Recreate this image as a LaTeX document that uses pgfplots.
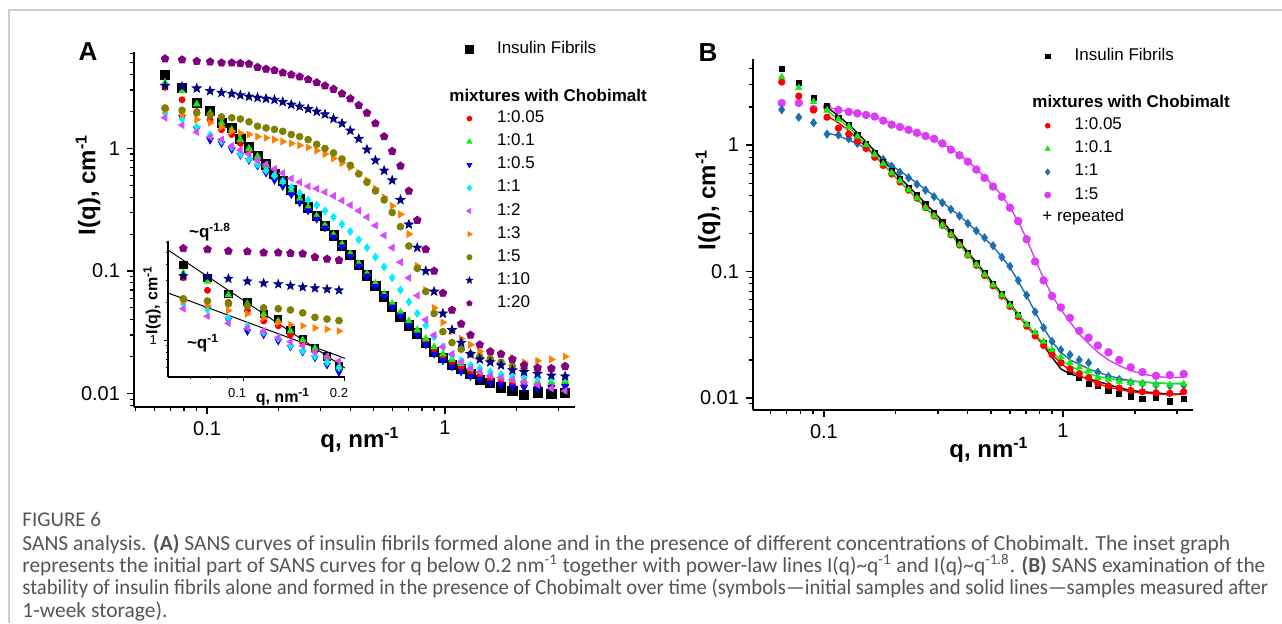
\documentclass[border=0pt]{standalone}
\usepackage{graphicx}
\usepackage{pgfplots}
\pgfplotsset{compat=1.18}
\usepackage{pgfplotstable}
\usepackage{fontspec}
\setmainfont{Liberation Sans}
\newfontfamily\capfont{Carlito}
\usetikzlibrary{plotmarks}

\definecolor{cRed}{RGB}{255,0,0}
\definecolor{cGreen}{RGB}{20,235,20}
\definecolor{cBlue}{RGB}{0,0,255}
\definecolor{cCyan}{RGB}{0,240,255}
\definecolor{cMag}{RGB}{215,75,255}
\definecolor{cOrange}{RGB}{255,128,0}
\definecolor{cOlive}{RGB}{128,128,0}
\definecolor{cNavy}{RGB}{0,0,128}
\definecolor{cPurp}{RGB}{128,0,128}
\definecolor{cSteel}{RGB}{30,110,180}
\definecolor{cMagB}{RGB}{220,60,245}
\definecolor{capgray}{RGB}{85,85,85}

% filled five-pointed star
\pgfdeclareplotmark{fstar}{%
  \pgfpathmoveto{\pgfqpointpolar{90}{\pgfplotmarksize}}%
  \pgfpathlineto{\pgfqpointpolar{126}{0.42\pgfplotmarksize}}%
  \pgfpathlineto{\pgfqpointpolar{162}{\pgfplotmarksize}}%
  \pgfpathlineto{\pgfqpointpolar{198}{0.42\pgfplotmarksize}}%
  \pgfpathlineto{\pgfqpointpolar{234}{\pgfplotmarksize}}%
  \pgfpathlineto{\pgfqpointpolar{270}{0.42\pgfplotmarksize}}%
  \pgfpathlineto{\pgfqpointpolar{306}{\pgfplotmarksize}}%
  \pgfpathlineto{\pgfqpointpolar{342}{0.42\pgfplotmarksize}}%
  \pgfpathlineto{\pgfqpointpolar{18}{\pgfplotmarksize}}%
  \pgfpathlineto{\pgfqpointpolar{54}{0.42\pgfplotmarksize}}%
  \pgfpathclose
  \pgfusepathqfillstroke}

% panel A: q, then I(q) for each sample
\pgfplotstableread{
q     blk    red    grn    blu    cya    mag    ora    olv    nav    pur
0.0666 3.98  3.15   3.45   2.05   1.95   1.78   2.05   2.14   3.25   5.4
0.0785 3.12  2.50   2.95   1.80   1.75   1.55   1.88   2.05   3.20   5.3
0.0905 2.35  2.00   2.30   1.45   1.50   1.36   1.72   1.95   3.10   5.15
0.103  2.02  1.72   1.95   1.17   1.29   1.24   1.62   1.88   2.95   5.1
0.115  1.62  1.42   1.62   1.10   1.15   1.18   1.50   1.81   2.85   5.0
0.127  1.47  1.30   1.42   0.98   1.03   1.05   1.38   1.78   2.80   5.0
0.138  1.20  1.10   1.18   0.88   0.90   0.97   1.33   1.74   2.72   4.95
0.150  1.02  0.95   1.00   0.80   0.82   0.90   1.30   1.65   2.65   4.9
0.163  0.87  0.82   0.86   0.72   0.74   0.80   1.25   1.52   2.60   4.6
0.177  0.74  0.71   0.73   0.63   0.66   0.74   1.22   1.47   2.55   4.45
0.192  0.62  0.60   0.61   0.55   0.60   0.68   1.18   1.43   2.50   4.35
0.208  0.54  0.52   0.53   0.49   0.54   0.63   1.14   1.38   2.40   4.15
0.226  0.46  0.45   0.45   0.42   0.48   0.57   1.10   1.30   2.28   4.0
0.245  0.39  0.38   0.385  0.36   0.43   0.53   1.06   1.25   2.20   3.85
0.266  0.33  0.325  0.33   0.31   0.38   0.49   1.02   1.18   2.10   3.65
0.289  0.28  0.275  0.28   0.265  0.345  0.47   0.96   1.08   2.00   3.45
0.313  0.235 0.232  0.235  0.225  0.31   0.44   0.90   1.00   1.90   3.25
0.340  0.195 0.195  0.197  0.19   0.275  0.41   0.83   0.92   1.75   3.05
0.369  0.162 0.163  0.165  0.158  0.24   0.375  0.76   0.82   1.60   2.8
0.400  0.135 0.136  0.138  0.132  0.21   0.345  0.70   0.73   1.40   2.55
0.434  0.112 0.113  0.115  0.11   0.18   0.31   0.63   0.62   1.20   2.25
0.470  0.092 0.094  0.095  0.091  0.155  0.275  0.55   0.53   0.98   1.95
0.510  0.076 0.078  0.079  0.075  0.13   0.235  0.47   0.45   0.80   1.6
0.555  0.062 0.064  0.065  0.062  0.108  0.195  0.40   0.38   0.66   1.25
0.600  0.051 0.053  0.054  0.051  0.088  0.155  0.34   0.30   0.55   0.95
0.650  0.042 0.045  0.046  0.043  0.070  0.118  0.29   0.23   0.38   0.72
0.705  0.036 0.038  0.039  0.036  0.056  0.088  0.20   0.16   0.24   0.45
0.765  0.031 0.032  0.033  0.030  0.045  0.063  0.11   0.105  0.155  0.26
0.830  0.026 0.027  0.028  0.025  0.036  0.040  0.07   0.068  0.10   0.15
0.900  0.022 0.023  0.024  0.021  0.029  0.030  0.05   0.045  0.068  0.10
0.980  0.0195 0.020 0.021  0.0185 0.024  0.024  0.038  0.032  0.045  0.066
1.07   0.017 0.018  0.019  0.0165 0.0205 0.021  0.032  0.026  0.033  0.048
1.17   0.0158 0.0165 0.0175 0.015 0.0185 0.018  0.028  0.023  0.026  0.037
1.28   0.0145 0.015 0.016  0.0138 0.017  0.016  0.025  0.021  0.021  0.030
1.40   0.013 0.014  0.015  0.013  0.016  0.015  0.022  0.020  0.019  0.025
1.55   0.0122 0.0132 0.0142 0.0122 0.015 0.014 0.021  0.0192 0.018  0.022
1.72   0.0112 0.0125 0.0136 0.0118 0.0143 0.0135 0.021 0.018 0.017  0.021
1.92   0.0105 0.012 0.013  0.0113 0.0138 0.013  0.0195 0.0167 0.0155 0.019
2.15   0.0098 0.0118 0.0127 0.0112 0.0135 0.0125 0.018 0.016 0.015 0.017
2.45   0.0102 0.0116 0.0125 0.011 0.0134 0.0118 0.0185 0.0157 0.0145 0.0162
2.80   0.0099 0.0115 0.0124 0.0112 0.0134 0.011 0.019 0.016 0.014 0.016
3.20   0.0101 0.0117 0.0126 0.0114 0.0135 0.0105 0.020 0.0168 0.0138 0.0166
}\tabA

% panel B: initial samples (symbols)
\pgfplotstableread{
q      blk    red    grn    blu    mag
0.0666 3.98   3.15   3.45   1.90   2.15
0.0785 3.09   2.44   2.83   1.66   2.15
0.0905 2.35   1.89   2.19   1.50   1.93
0.103  2.03   1.66   1.88   1.22   2.00
0.115  1.63   1.36   1.60   1.20   1.89
0.127  1.44   1.22   1.40   1.12   1.83
0.138  1.20   1.08   1.17   1.03   1.78
0.150  1.02   0.94   1.00   0.95   1.73
0.163  0.86   0.80   0.84   0.85   1.68
0.177  0.73   0.69   0.71   0.77   1.56
0.192  0.62   0.59   0.60   0.68   1.45
0.208  0.54   0.51   0.52   0.61   1.39
0.226  0.46   0.44   0.44   0.55   1.32
0.245  0.40   0.38   0.38   0.49   1.25
0.266  0.34   0.32   0.32   0.44   1.18
0.289  0.29   0.275  0.275  0.39   1.12
0.313  0.245  0.232  0.232  0.35   1.03
0.340  0.205  0.195  0.195  0.31   0.92
0.369  0.170  0.162  0.162  0.275  0.83
0.400  0.140  0.135  0.135  0.24   0.74
0.434  0.117  0.112  0.113  0.21   0.64
0.470  0.097  0.093  0.094  0.185  0.55
0.510  0.080  0.077  0.078  0.16   0.47
0.555  0.066  0.064  0.065  0.13   0.39
0.600  0.055  0.053  0.054  0.11   0.32
0.650  0.045  0.044  0.045  0.085  0.25
0.705  0.038  0.037  0.038  0.065  0.18
0.765  0.032  0.031  0.033  0.048  0.12
0.830  0.027  0.026  0.028  0.036  0.085
0.900  0.023  0.022  0.024  0.028  0.064
0.980  0.019  0.019  0.021  0.024  0.052
1.07   0.016  0.017  0.019  0.022  0.043
1.17   0.0145 0.0155 0.0175 0.020  0.034
1.28   0.013  0.0145 0.0165 0.019  0.030
1.40   0.0125 0.013  0.0145 0.016  0.026
1.55   0.0115 0.0125 0.014  0.0148 0.023
1.72   0.0108 0.012  0.0135 0.014  0.020
1.92   0.0103 0.0115 0.0132 0.0133 0.0175
2.15   0.0099 0.0112 0.013  0.013  0.016
2.45   0.0101 0.011  0.0128 0.0127 0.015
2.80   0.0094 0.0109 0.0127 0.0125 0.0152
3.20   0.0098 0.0112 0.0129 0.0126 0.0155
}\tabB

% panel B: after 1-week storage (lines)
\pgfplotstableread{
q      blk    red    grn    blu    mag
0.103  2.0    1.7    1.85   1.25   2.0
0.115  1.7    1.5    1.6    1.18   1.9
0.127  1.45   1.3    1.38   1.1    1.84
0.138  1.25   1.12   1.18   1.02   1.79
0.150  1.06   0.96   1.0    0.94   1.74
0.163  0.9    0.82   0.84   0.86   1.67
0.177  0.76   0.7    0.71   0.77   1.57
0.192  0.64   0.6    0.6    0.69   1.47
0.208  0.55   0.51   0.52   0.62   1.39
0.226  0.47   0.44   0.44   0.56   1.32
0.245  0.405  0.375  0.38   0.5    1.25
0.266  0.345  0.32   0.32   0.445  1.18
0.289  0.295  0.275  0.275  0.395  1.1
0.313  0.25   0.235  0.232  0.352  1.02
0.340  0.208  0.198  0.195  0.312  0.93
0.369  0.172  0.165  0.163  0.276  0.84
0.400  0.142  0.137  0.136  0.242  0.75
0.434  0.118  0.114  0.113  0.21   0.65
0.470  0.098  0.095  0.094  0.183  0.56
0.510  0.081  0.078  0.078  0.158  0.48
0.555  0.067  0.065  0.065  0.13   0.4
0.600  0.056  0.054  0.054  0.108  0.32
0.650  0.046  0.045  0.046  0.084  0.25
0.705  0.038  0.037  0.038  0.064  0.18
0.765  0.032  0.031  0.032  0.048  0.125
0.830  0.026  0.026  0.027  0.036  0.088
0.900  0.021  0.022  0.023  0.028  0.065
0.980  0.017  0.019  0.02   0.023  0.05
1.07   0.0155 0.0165 0.018  0.02   0.04
1.17   0.0148 0.015  0.0165 0.0185 0.032
1.28   0.0142 0.014  0.0155 0.017  0.027
1.40   0.0135 0.013  0.0148 0.016  0.023
1.55   0.0128 0.0122 0.0143 0.015  0.02
1.72   0.012  0.0117 0.0139 0.0143 0.018
1.92   0.0115 0.0112 0.0136 0.0137 0.0165
2.15   0.0112 0.011  0.0134 0.0134 0.0155
2.45   0.011  0.0108 0.0132 0.0131 0.0148
2.80   0.0107 0.0106 0.013  0.013  0.0145
3.20   0.0108 0.0107 0.0131 0.013  0.0146
}\tabBl

\begin{document}
\begin{tikzpicture}
\path[use as bounding box] (0,0) rectangle (641pt,311.5pt);
\draw[black!20, line width=0.6pt] (4.5pt,0) -- (4.5pt,306.5pt) -- (641pt,306.5pt);

% ---------------- panel A ----------------
\begin{axis}[
  scale only axis, xmode=log, ymode=log,
  axis x line*=bottom, axis y line*=left, tick align=outside,
  axis line style={line width=0.75pt},
  major tick length=3.5pt, minor tick length=2pt,
  tick style={line width=0.6pt, black},
  tick label style={font=\fontsize{10}{12}\selectfont},
  at={(67pt,108pt)}, anchor=south west, width=220.5pt, height=177.5pt,
  xmin=0.0493, xmax=3.52, ymin=0.00776, ymax=6.13,
  xtick={0.1,1}, xticklabels={0.1,1},
  minor xtick={0.05,0.06,0.07,0.08,0.09,0.2,0.3,0.4,0.5,0.6,0.7,0.8,0.9,2,3},
  ytick={0.01,0.1,1}, yticklabels={0.01,0.1,1},
  minor ytick={0.008,0.009,0.02,0.03,0.04,0.05,0.06,0.07,0.08,0.09,0.2,0.3,0.4,0.5,0.6,0.7,0.8,0.9,2,3,4,5,6},
  legend cell align=left,
  legend style={draw=none, fill=none, anchor=north west, inner sep=0pt,
    at={(axis description cs:0.721,1.034)},
    font=\fontsize{8.5}{10}\selectfont, row sep=2.55pt,
    nodes={inner xsep=12pt, inner ysep=0pt, text height=6.5pt, text depth=2.5pt}},
]
\addplot[only marks, forget plot, mark=square*, mark size=2.3pt, black] table[x=q,y=blk]{\tabA};
\addplot[only marks, forget plot, mark=*, mark size=1.5pt, cRed] table[x=q,y=red]{\tabA};
\addplot[only marks, forget plot, mark=triangle*, mark size=1.9pt, cGreen] table[x=q,y=grn]{\tabA};
\addplot[only marks, forget plot, mark=triangle*, mark size=1.9pt, mark options={rotate=180}, cBlue] table[x=q,y=blu]{\tabA};
\addplot[only marks, forget plot, mark=diamond*, mark size=1.9pt, cCyan] table[x=q,y=cya]{\tabA};
\addplot[only marks, forget plot, mark=triangle*, mark size=1.9pt, mark options={rotate=90}, cMag] table[x=q,y=mag]{\tabA};
\addplot[only marks, forget plot, mark=triangle*, mark size=1.9pt, mark options={rotate=-90}, cOrange] table[x=q,y=ora]{\tabA};
\addplot[only marks, forget plot, mark=*, mark size=1.7pt, cOlive] table[x=q,y=olv]{\tabA};
\addplot[only marks, forget plot, mark=fstar, mark size=2.3pt, cNavy] table[x=q,y=nav]{\tabA};
\addplot[only marks, forget plot, mark=pentagon*, mark size=2pt, cPurp] table[x=q,y=pur]{\tabA};

\addlegendimage{only marks, mark=square*, mark size=1.8pt, black}
\addlegendentry{Insulin Fibrils}
\addlegendimage{empty legend}\addlegendentry{}
\addlegendimage{empty legend}\addlegendentry{}
\addlegendimage{only marks, mark=*, mark size=1.2pt, cRed}\addlegendentry{1:0.05}
\addlegendimage{only marks, mark=triangle*, mark size=1.4pt, cGreen}\addlegendentry{1:0.1}
\addlegendimage{only marks, mark=triangle*, mark size=1.4pt, mark options={rotate=180}, cBlue}\addlegendentry{1:0.5}
\addlegendimage{only marks, mark=diamond*, mark size=1.4pt, cCyan}\addlegendentry{1:1}
\addlegendimage{only marks, mark=triangle*, mark size=1.4pt, mark options={rotate=90}, cMag}\addlegendentry{1:2}
\addlegendimage{only marks, mark=triangle*, mark size=1.4pt, mark options={rotate=-90}, cOrange}\addlegendentry{1:3}
\addlegendimage{only marks, mark=*, mark size=1.3pt, cOlive}\addlegendentry{1:5}
\addlegendimage{only marks, mark=fstar, mark size=1.6pt, cNavy}\addlegendentry{1:10}
\addlegendimage{only marks, mark=pentagon*, mark size=1.4pt, cPurp}\addlegendentry{1:20}
\end{axis}

% ---------------- inset of panel A ----------------
\begin{axis}[
  scale only axis, xmode=log, ymode=log,
  axis x line*=bottom, axis y line*=left, tick align=outside,
  axis line style={line width=0.6pt},
  major tick length=2pt, minor tick length=1.2pt,
  tick style={line width=0.5pt, black},
  tick label style={font=\fontsize{6.5}{8}\selectfont},
  at={(84pt,123pt)}, anchor=south west, width=88.5pt, height=68pt,
  xmin=0.06, xmax=0.2, ymin=0.506, ymax=6.2,
  xtick={0.1,0.2}, xticklabels={0.1,0.2},
  minor xtick={0.07,0.08,0.09},
  xticklabel style={xshift=-3pt},
  ytick={1}, yticklabels={1},
  minor ytick={0.6,0.7,0.8,0.9,2,3,4,5,6},
]
\addplot[only marks, mark=square*, mark size=1.8pt, black] table[x=q,y=blk]{\tabA};
\addplot[only marks, mark=*, mark size=1.5pt, cRed] table[x=q,y=red]{\tabA};
\addplot[only marks, mark=triangle*, mark size=1.8pt, cGreen] table[x=q,y=grn]{\tabA};
\addplot[only marks, mark=triangle*, mark size=1.8pt, mark options={rotate=180}, cBlue] table[x=q,y=blu]{\tabA};
\addplot[only marks, mark=diamond*, mark size=1.8pt, cCyan] table[x=q,y=cya]{\tabA};
\addplot[only marks, mark=triangle*, mark size=1.8pt, mark options={rotate=90}, cMag] table[x=q,y=mag]{\tabA};
\addplot[only marks, mark=triangle*, mark size=1.8pt, mark options={rotate=-90}, cOrange] table[x=q,y=ora]{\tabA};
\addplot[only marks, mark=*, mark size=1.7pt, cOlive] table[x=q,y=olv]{\tabA};
\addplot[only marks, mark=fstar, mark size=2.2pt, cNavy] table[x=q,y=nav]{\tabA};
\addplot[only marks, mark=pentagon*, mark size=2pt, cPurp] table[x=q,y=pur]{\tabA};
\addplot[black, line width=0.5pt] coordinates {(0.06,5.25) (0.2,0.597)};
\addplot[black, line width=0.5pt] coordinates {(0.06,2.38) (0.2,0.713)};
\end{axis}

% ---------------- panel B ----------------
\begin{axis}[
  scale only axis, xmode=log, ymode=log,
  axis x line*=bottom, axis y line*=left, tick align=outside,
  axis line style={line width=0.75pt},
  major tick length=3.5pt, minor tick length=2pt,
  tick style={line width=0.6pt, black},
  tick label style={font=\fontsize{10}{12}\selectfont},
  at={(376.5pt,106.5pt)}, anchor=south west, width=220pt, height=175.5pt,
  xmin=0.0505, xmax=3.5, ymin=0.00804, ymax=4.79,
  xtick={0.1,1}, xticklabels={0.1,1},
  minor xtick={0.06,0.07,0.08,0.09,0.2,0.3,0.4,0.5,0.6,0.7,0.8,0.9,2,3},
  ytick={0.01,0.1,1}, yticklabels={0.01,0.1,1},
  minor ytick={0.009,0.02,0.03,0.04,0.05,0.06,0.07,0.08,0.09,0.2,0.3,0.4,0.5,0.6,0.7,0.8,0.9,2,3,4},
  legend cell align=left,
  legend style={draw=none, fill=none, anchor=north west, inner sep=0pt,
    at={(axis description cs:0.630,1.034)},
    font=\fontsize{8.5}{10}\selectfont, row sep=2.55pt,
    nodes={inner xsep=12pt, inner ysep=0pt, text height=6.5pt, text depth=2.5pt}},
]
\addplot[only marks, forget plot, mark=*, mark size=1.9pt, cMagB] table[x=q,y=mag]{\tabB};
\addplot[only marks, forget plot, mark=diamond*, mark size=2pt, cSteel] table[x=q,y=blu]{\tabB};
\addplot[only marks, forget plot, mark=square*, mark size=1.3pt, black] table[x=q,y=blk]{\tabB};
\addplot[only marks, forget plot, mark=*, mark size=1.6pt, cRed] table[x=q,y=red]{\tabB};
\addplot[only marks, forget plot, mark=triangle*, mark size=1.8pt, cGreen] table[x=q,y=grn]{\tabB};
\addplot[forget plot, no marks, line width=0.7pt, cMagB] table[x=q,y=mag]{\tabBl};
\addplot[forget plot, no marks, line width=0.7pt, cSteel] table[x=q,y=blu]{\tabBl};
\addplot[forget plot, no marks, line width=0.7pt, black] table[x=q,y=blk]{\tabBl};
\addplot[forget plot, no marks, line width=0.7pt, cRed] table[x=q,y=red]{\tabBl};
\addplot[forget plot, no marks, line width=0.7pt, cGreen] table[x=q,y=grn]{\tabBl};

\addlegendimage{only marks, mark=square*, mark size=1.2pt, black}
\addlegendentry{Insulin Fibrils}
\addlegendimage{empty legend}\addlegendentry{}
\addlegendimage{empty legend}\addlegendentry{}
\addlegendimage{only marks, mark=*, mark size=1.2pt, cRed}\addlegendentry{1:0.05}
\addlegendimage{only marks, mark=triangle*, mark size=1.4pt, cGreen}\addlegendentry{1:0.1}
\addlegendimage{only marks, mark=diamond*, mark size=1.5pt, cSteel}\addlegendentry{1:1}
\addlegendimage{only marks, mark=*, mark size=1.5pt, cMagB}\addlegendentry{1:5}
\end{axis}

% ---------------- texts ----------------
\node[font=\fontsize{13}{15}\selectfont\bfseries] at (44pt,285.5pt) {A};
\node[font=\fontsize{13}{15}\selectfont\bfseries] at (354pt,285pt) {B};
\node[font=\fontsize{12}{14}\selectfont\bfseries, rotate=90] at (44pt,219pt) {I(q), cm\textsuperscript{-1}};
\node[font=\fontsize{12}{14}\selectfont\bfseries] at (180pt,91.5pt) {q, nm\textsuperscript{-1}};
\node[font=\fontsize{12}{14}\selectfont\bfseries, rotate=90] at (354pt,211.5pt) {I(q), cm\textsuperscript{-1}};
\node[font=\fontsize{12}{14}\selectfont\bfseries] at (494.5pt,86.5pt) {q, nm\textsuperscript{-1}};
\node[font=\fontsize{8}{9}\selectfont\bfseries, rotate=90] at (76pt,161.5pt) {I(q), cm\textsuperscript{-1}};
\node[font=\fontsize{8}{9}\selectfont\bfseries] at (141.5pt,113pt) {q, nm\textsuperscript{-1}};
\node[font=\fontsize{8.5}{10}\selectfont\bfseries] at (105pt,195.5pt) {\textasciitilde q\textsuperscript{-1.8}};
\node[font=\fontsize{8.5}{10}\selectfont\bfseries] at (101.5pt,140pt) {\textasciitilde q\textsuperscript{-1}};
\node[font=\fontsize{8.5}{10}\selectfont\bfseries, anchor=west, inner sep=0pt] at (224.5pt,264pt) {mixtures with Chobimalt};
\node[font=\fontsize{8.5}{10}\selectfont\bfseries, anchor=west, inner sep=0pt] at (516pt,261pt) {mixtures with Chobimalt};
\node[font=\fontsize{8.5}{10}\selectfont, anchor=west, inner sep=0pt] at (521pt,203pt) {+ repeated};

% ---------------- caption ----------------
\begin{scope}[every node/.style={anchor=base west, inner sep=0pt, text=capgray}]
\node[font=\capfont\fontsize{10.5}{12}\selectfont] at (11pt,48.5pt) {FIGURE 6};
\node[font=\capfont\fontsize{10.75}{12}\selectfont] at (11pt,36.5pt) {\resizebox{604pt}{\height}{SANS analysis. \textbf{(A)} SANS curves of insulin fibrils formed alone and in the presence of different concentrations of Chobimalt. The inset graph}};
\node[font=\capfont\fontsize{10.75}{12}\selectfont] at (11pt,25.5pt) {\resizebox{621.5pt}{\height}{represents the initial part of SANS curves for q below 0.2 nm\textsuperscript{-1} together with power-law lines I(q)\textasciitilde q\textsuperscript{-1} and I(q)\textasciitilde q\textsuperscript{-1.8}. \textbf{(B)} SANS examination of the}};
\node[font=\capfont\fontsize{10.75}{12}\selectfont] at (11pt,14.5pt) {\resizebox{623pt}{\height}{stability of insulin fibrils alone and formed in the presence of Chobimalt over time (symbols—initial samples and solid lines—samples measured after}};
\node[font=\capfont\fontsize{10.75}{12}\selectfont] at (11pt,3pt) {1-week storage).};
\end{scope}
\end{tikzpicture}
\end{document}
